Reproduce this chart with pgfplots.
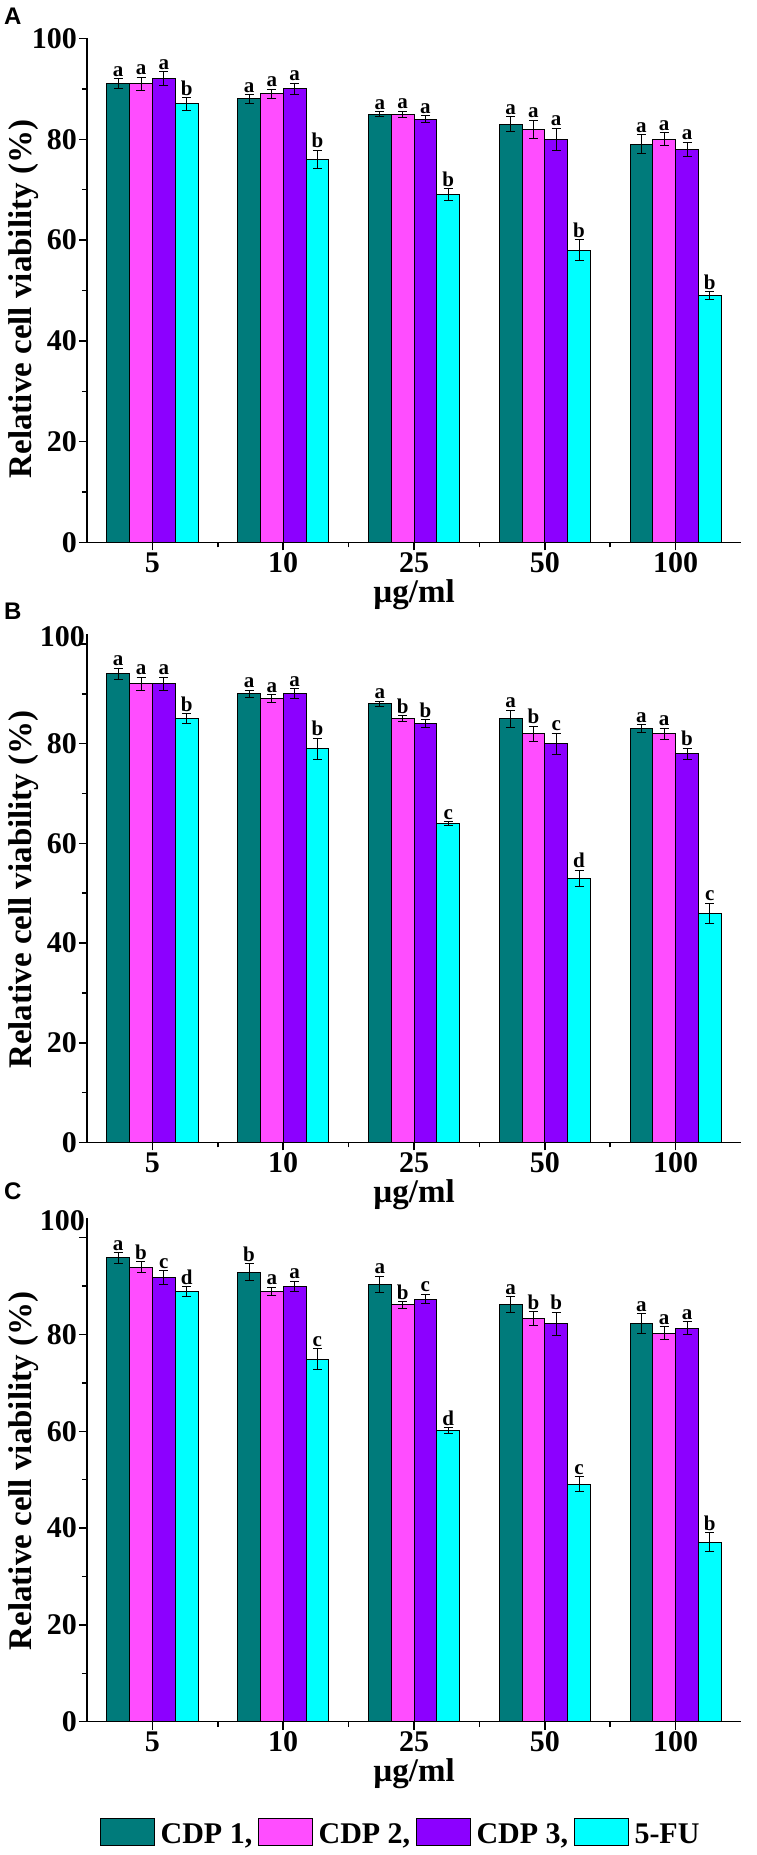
\documentclass[border=0pt]{standalone}
\usepackage{fontspec}
\setmainfont{Liberation Serif}
\newfontfamily\panelfont{Liberation Sans}
\usepackage{pgfplots}
\usepackage{pgfplotstable}
\pgfplotsset{compat=1.18}

\definecolor{cdpA}{RGB}{0,123,123}
\definecolor{cdpB}{RGB}{255,77,255}
\definecolor{cdpC}{RGB}{140,0,255}
\definecolor{cdpD}{RGB}{0,255,255}

\newcommand\tickfont{\fontsize{30}{30}\selectfont\bfseries}
\newcommand\labfont{\fontsize{33}{33}\selectfont\bfseries}
\newcommand\letfont{\fontsize{21}{21}\selectfont\bfseries}
\newcommand\legfont{\fontsize{30}{30}\selectfont\bfseries}
\newcommand\pfont{\panelfont\fontsize{24}{24}\selectfont\bfseries}

% x  c1 e1 l1  c2 e2 l2  c3 e3 l3  c4 e4 l4
\pgfplotstableread{
x c1 e1 l1 c2 e2 l2 c3 e3 l3 c4 e4 l4
0 91 1.0 a 91 1.3 a 92 1.4 a 87 1.2 b
1 88 0.9 a 89 0.9 a 90 1.1 a 76 1.8 b
2 85 0.5 a 85 0.6 a 84 0.7 a 69 1.2 b
3 83 1.5 a 82 1.8 a 80 2.2 a 58 2.1 b
4 79 1.9 a 80 1.3 a 78 1.4 a 49 0.8 b
}\tA
\pgfplotstableread{
x c1 e1 l1 c2 e2 l2 c3 e3 l3 c4 e4 l4
0 94 1.1 a 92 1.3 a 92 1.3 a 85 1.0 b
1 90 0.7 a 89 0.8 a 90 1.0 a 79 2.1 b
2 88 0.5 a 85 0.6 b 84 0.8 b 64 0.4 c
3 85 1.7 a 82 1.5 b 80 2.1 c 53 1.6 d
4 83 0.8 a 82 1.1 a 78 1.1 b 46 2.0 c
}\tB
\pgfplotstableread{
x c1 e1 l1 c2 e2 l2 c3 e3 l3 c4 e4 l4
0 95.8 1.1 a 93.9 1.1 b 91.8 1.4 c 88.9 1.0 d
1 92.9 1.7 b 88.9 0.9 a 89.9 1.1 a 74.9 2.2 c
2 90.3 1.7 a 86.1 0.7 b 87.3 1.0 c 60.1 0.6 d
3 86.2 1.6 a 83.3 1.4 b 82.2 2.4 b 49.1 1.5 c
4 82.2 2.1 a 80.3 1.3 a 81.3 1.3 a 37.1 2.0 b
}\tC

\pgfplotsset{
  barleg/.style={legend image code/.code={\draw[##1, line width=1.3pt] (0pt,-11pt) rectangle (54pt,16pt);}},
  mybar/.style={draw=black, line width=1pt, barleg},
  labbar/.style={draw=none, fill=none, forget plot,
    nodes near coords, point meta=explicit symbolic,
    nodes near coords style={font=\letfont, text=black, inner sep=2pt, anchor=south}},
  myax/.style={
    ybar, bar width=22.8pt,
    scale only axis, width=654pt,
    xmin=-0.5, xmax=4.5, ymin=0,
    axis x line*=bottom, axis y line*=left,
    axis line style={line width=1.5pt, -},
    xtick={0,...,4},
    xticklabels={\textbf{5},\textbf{10},\textbf{25},\textbf{50},\textbf{100}},
    minor xtick={0.5,1.5,2.5,3.5},
    ytick={0,20,...,100}, minor ytick={10,30,...,90},
    tick align=outside, major tick length=8pt, minor tick length=5pt,
    every tick/.style={black, line width=1.5pt},
    tick label style={font=\tickfont, inner sep=2pt},
    /pgf/number format/assume math mode=true,
    xlabel={µg/ml},
    xlabel style={at={(axis description cs:0.5,0)}, anchor=center, yshift=-52pt, font=\labfont},
    ylabel={Relative cell viability (\%)},
    ylabel style={font=\labfont, anchor=center},
    clip=false,
  },
  errb/.style={error bars/.cd, y dir=both, y explicit,
    error bar style={line width=1pt, black},
    error mark options={rotate=90, mark size=4.5pt, line width=1pt, black}},
}

\newcommand\panel[1]{%
  \addplot[mybar, bar shift=-34.2pt, fill=cdpA, errb] table[x=x, y=c1, y error=e1]{#1};
  \addplot[mybar, bar shift=-11.4pt, fill=cdpB, errb] table[x=x, y=c2, y error=e2]{#1};
  \addplot[mybar, bar shift=11.4pt, fill=cdpC, errb] table[x=x, y=c3, y error=e3]{#1};
  \addplot[mybar, bar shift=34.2pt, fill=cdpD, errb] table[x=x, y=c4, y error=e4]{#1};
  \addplot[labbar, bar shift=-34.2pt] table[x=x, y expr=\thisrow{c1}+\thisrow{e1}, meta=l1]{#1};
  \addplot[labbar, bar shift=-11.4pt] table[x=x, y expr=\thisrow{c2}+\thisrow{e2}, meta=l2]{#1};
  \addplot[labbar, bar shift=11.4pt] table[x=x, y expr=\thisrow{c3}+\thisrow{e3}, meta=l3]{#1};
  \addplot[labbar, bar shift=34.2pt] table[x=x, y expr=\thisrow{c4}+\thisrow{e4}, meta=l4]{#1};
}

\begin{document}
\begin{tikzpicture}
\useasboundingbox (0pt,0pt) rectangle (756pt,1855pt);

% Panel A
\begin{axis}[myax, at={(87pt,1312.5pt)}, anchor=south west,
  height=504pt, ymax=100,
  ylabel style={at={(axis description cs:-0.0963,0.483)}}]
\panel{\tA}
\end{axis}

% Panel B
\begin{axis}[myax, at={(87pt,712.5pt)}, anchor=south west,
  height=508pt, ymax=101.9,
  yticklabels={0,20,40,60,80,{}},
  extra y ticks={101.5}, extra y tick labels={100},
  extra y tick style={major tick length=0pt},
  ylabel style={at={(axis description cs:-0.0963,0.498)}}]
\panel{\tB}
\end{axis}

% Panel C
\begin{axis}[myax, at={(87pt,133.3pt)}, anchor=south west,
  height=503.4pt, ymax=104,
  yticklabels={0,20,40,60,80,{}},
  extra y ticks={103.5}, extra y tick labels={100},
  extra y tick style={major tick length=0pt},
  ylabel style={at={(axis description cs:-0.0963,0.498)}},
  legend style={at={(axis description cs:0.48,-0.221)}, anchor=center,
    draw=none, fill=none, legend columns=4, font=\legfont,
    column sep=3pt, inner sep=0pt, nodes={inner sep=2.5pt}},
  legend cell align=left]
\panel{\tC}
\legend{{CDP 1,},{CDP 2,},{CDP 3,},{5-FU}}
\end{axis}

\node[anchor=base west, inner sep=0pt, font=\pfont] at (4pt,1830pt) {A};
\node[anchor=base west, inner sep=0pt, font=\pfont] at (4pt,1235pt) {B};
\node[anchor=base west, inner sep=0pt, font=\pfont] at (4pt,655pt) {C};
\end{tikzpicture}
\end{document}
